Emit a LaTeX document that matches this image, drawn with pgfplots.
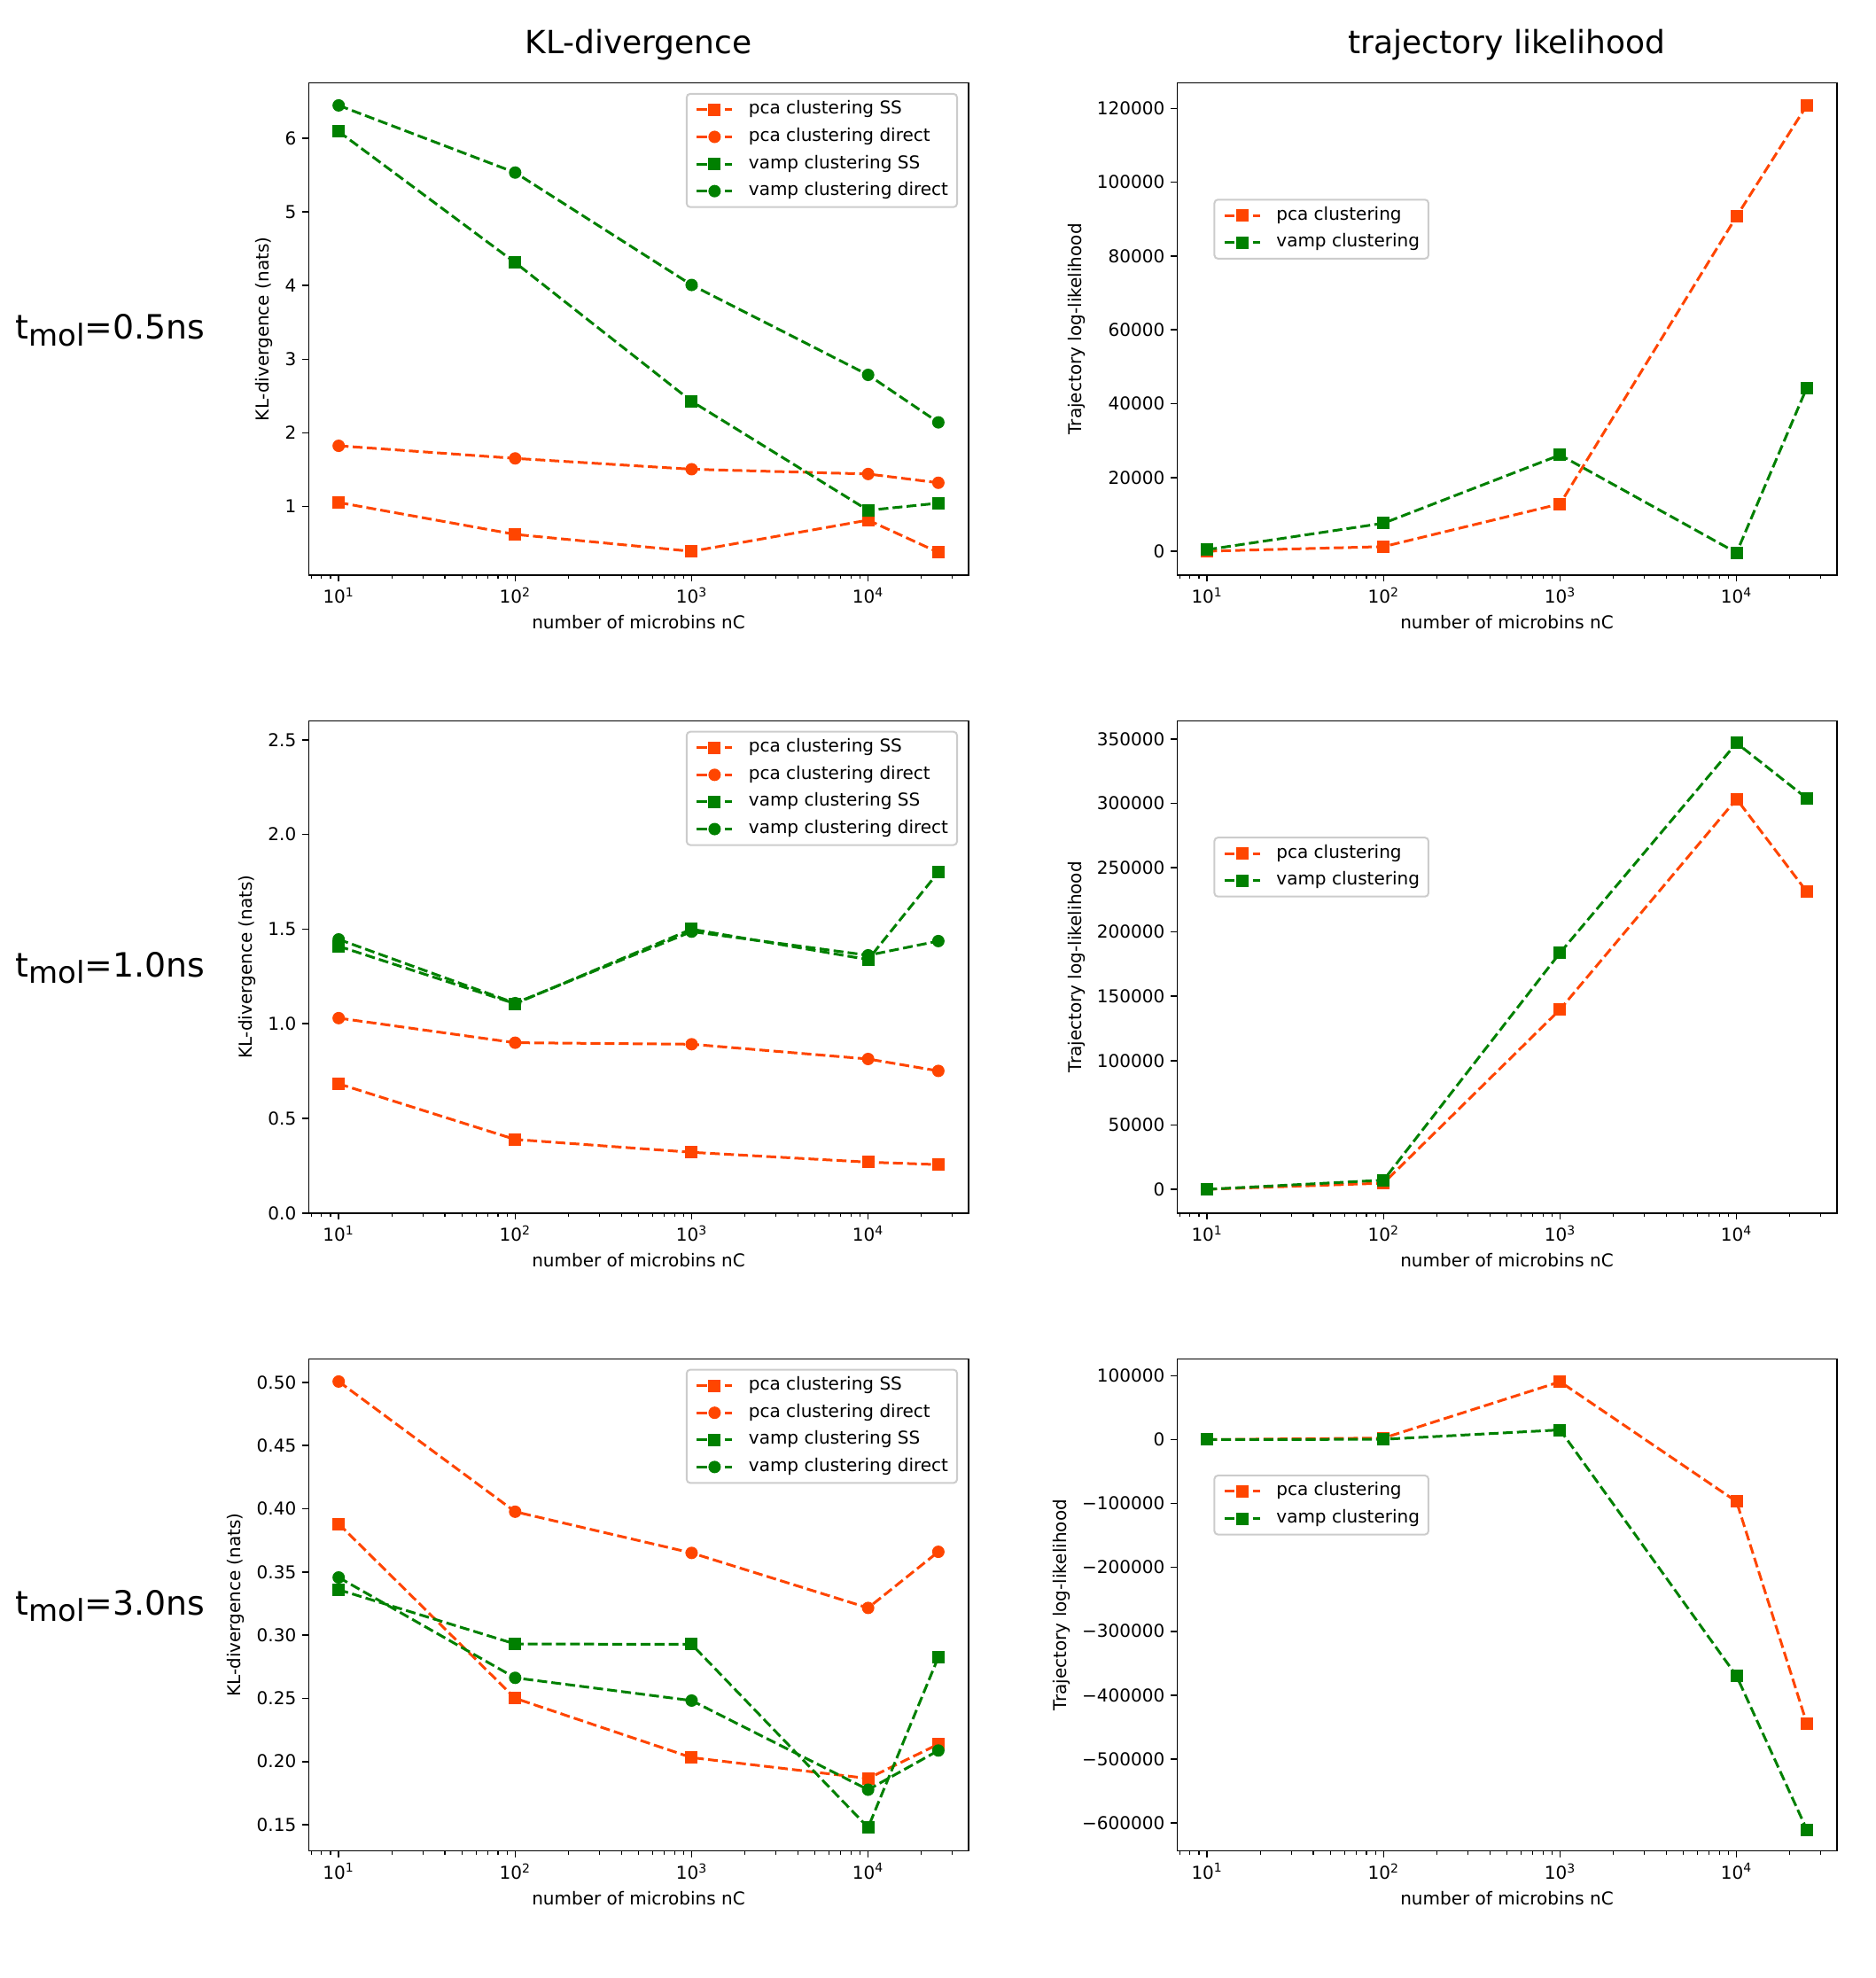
\documentclass[border=0pt]{standalone}
\usepackage{fontspec}
\setmainfont{DejaVu Sans}
\usepackage{pgfplots}
\pgfplotsset{compat=1.18}
\usepackage{pgfplotstable}

\definecolor{pcaC}{RGB}{255,69,0}
\definecolor{vampC}{RGB}{0,128,0}

% ---- KL-divergence (nats) per number of microbins ----
\pgfplotstableread{
n      pcaSS   pcaDir  vampSS  vampDir
10     1.055   1.825   6.092   6.447
100    0.622   1.654   4.313   5.535
1000   0.392   1.507   2.429   4.009
10000  0.816   1.442   0.949   2.788
25000  0.378   1.323   1.046   2.143
}\klA
\pgfplotstableread{
n      pcaSS   pcaDir  vampSS  vampDir
10     0.683   1.030   1.410   1.446
100    0.389   0.900   1.106   1.109
1000   0.321   0.892   1.500   1.487
10000  0.269   0.814   1.339   1.362
25000  0.256   0.751   1.801   1.437
}\klB
\pgfplotstableread{
n      pcaSS   pcaDir  vampSS  vampDir
10     0.388   0.5006  0.3359  0.3456
100    0.250   0.3976  0.2930  0.2662
1000   0.2031  0.3650  0.2927  0.2482
10000  0.1866  0.3215  0.1478  0.1777
25000  0.2137  0.3659  0.2825  0.2087
}\klC

% ---- trajectory log-likelihood ----
\pgfplotstableread{
n      pca      vamp
10     50       460
100    1287     7632
1000   12874    26115
10000  90759    -376
25000  120828   44322
}\llA
\pgfplotstableread{
n      pca      vamp
10     0        0
100    4800     7121
1000   139789   183836
10000  303316   346835
25000  231311   303843
}\llB
\pgfplotstableread{
n      pca      vamp
10     0        0
100    2500     500
1000   90644    15245
10000  -97028   -370006
25000  -444304  -610512
}\llC

\newcommand{\tfont}{\fontsize{10}{12}\selectfont}
\newcommand{\rowlab}[1]{{\fontsize{18.9}{22}\selectfont t}{\fontsize{17}{20}\selectfont\raisebox{-3.7pt}{mol}}{\fontsize{18.9}{22}\selectfont =#1ns}}

\pgfplotsset{
  every axis/.append style={
    scale only axis, width=372.2pt, height=277.65pt,
    xmode=log, xmin=6.76, xmax=36970,
    xtick={10,100,1000,10000},
    xticklabels={10\textsuperscript{1},10\textsuperscript{2},10\textsuperscript{3},10\textsuperscript{4}},
    minor xtick={7,8,9,20,30,40,50,60,70,80,90,200,300,400,500,600,700,800,900,2000,3000,4000,5000,6000,7000,8000,9000,20000,30000},
    scaled y ticks=false,
    tick pos=left, tick align=outside,
    major tick length=3.5pt, minor tick length=2pt,
    axis line style={line width=0.8pt},
    tick label style={font=\tfont},
    label style={font=\tfont},
    xlabel={number of microbins nC},
    title style={font=\fontsize{18}{21}\selectfont, at={(0.5,1)}, anchor=base, yshift=10.5pt},
    legend cell align=left,
    legend style={font=\tfont, draw=black!20, line width=1pt, rounded corners=2pt,
      fill=white, fill opacity=0.8, text opacity=1,
      inner xsep=5pt, inner ysep=4pt, row sep=5.3pt, column sep=8.5pt,
      nodes={inner sep=0pt, text height=7.5pt, text depth=2.5pt}},
  },
  every major tick/.append style={black, line width=0.8pt},
  every minor tick/.append style={black, line width=0.6pt},
  legend image code/.code={%
    \draw[mark repeat=2,mark phase=2,sharp corners,fill opacity=1,draw opacity=1,#1]
      plot coordinates {(0pt,0pt) (10pt,0pt) (20pt,0pt)};},
  /pgfplots/sPcaSS/.style={color=pcaC, line width=1.5pt, dash pattern=on 5.55pt off 2.4pt,
    mark=square*, mark size=3pt, mark options={solid, line width=1pt, fill=pcaC}},
  /pgfplots/sPcaDir/.style={color=pcaC, line width=1.5pt, dash pattern=on 5.55pt off 2.4pt,
    mark=*, mark size=3pt, mark options={solid, line width=1pt, fill=pcaC}},
  /pgfplots/sVampSS/.style={color=vampC, line width=1.5pt, dash pattern=on 5.55pt off 2.4pt,
    mark=square*, mark size=3pt, mark options={solid, line width=1pt, fill=vampC}},
  /pgfplots/sVampDir/.style={color=vampC, line width=1.5pt, dash pattern=on 5.55pt off 2.4pt,
    mark=*, mark size=3pt, mark options={solid, line width=1pt, fill=vampC}},
}

\begin{document}
\begin{tikzpicture}
\path[use as bounding box] (0pt,0pt) rectangle (1058pt,1116pt);

% row labels
\node[anchor=base west, inner sep=0pt] at (8.6pt,924.65pt) {\rowlab{0.5}};
\node[anchor=base west, inner sep=0pt] at (8.6pt,564.7pt) {\rowlab{1.0}};
\node[anchor=base west, inner sep=0pt] at (8.6pt,204.8pt) {\rowlab{3.0}};

% ===== row 1 =====
\begin{axis}[at={(174.15pt,791.5pt)}, anchor=south west,
  title={KL-divergence}, ylabel={KL-divergence (nats)},
  legend style={at={(1,1)}, anchor=north east, xshift=-5.85pt, yshift=-5.6pt},
  ymin=0.069, ymax=6.751, ytick={1,2,3,4,5,6}, yticklabels={1,2,3,4,5,6}]
\addplot[sPcaSS] table[x=n,y=pcaSS]{\klA}; \addlegendentry{pca clustering SS}
\addplot[sPcaDir] table[x=n,y=pcaDir]{\klA}; \addlegendentry{pca clustering direct}
\addplot[sVampSS] table[x=n,y=vampSS]{\klA}; \addlegendentry{vamp clustering SS}
\addplot[sVampDir] table[x=n,y=vampDir]{\klA}; \addlegendentry{vamp clustering direct}
\end{axis}

\begin{axis}[at={(664.15pt,791.5pt)}, anchor=south west,
  title={trajectory likelihood}, ylabel={Trajectory log-likelihood},
  legend style={at={(0.0552,0.7648)}, anchor=north west},
  ymin=-6437, ymax=126897, ytick={0,20000,40000,60000,80000,100000,120000},
  yticklabels={0,20000,40000,60000,80000,100000,120000}]
\addplot[sPcaSS] table[x=n,y=pca]{\llA}; \addlegendentry{pca clustering}
\addplot[sVampSS] table[x=n,y=vamp]{\llA}; \addlegendentry{vamp clustering}
\end{axis}

% ===== row 2 =====
\begin{axis}[at={(174.15pt,431.575pt)}, anchor=south west,
  ylabel={KL-divergence (nats)},
  legend style={at={(1,1)}, anchor=north east, xshift=-5.85pt, yshift=-5.6pt},
  ymin=0, ymax=2.6, ytick={0,0.5,1,1.5,2,2.5}, yticklabels={0.0,0.5,1.0,1.5,2.0,2.5}]
\addplot[sPcaSS] table[x=n,y=pcaSS]{\klB}; \addlegendentry{pca clustering SS}
\addplot[sPcaDir] table[x=n,y=pcaDir]{\klB}; \addlegendentry{pca clustering direct}
\addplot[sVampSS] table[x=n,y=vampSS]{\klB}; \addlegendentry{vamp clustering SS}
\addplot[sVampDir] table[x=n,y=vampDir]{\klB}; \addlegendentry{vamp clustering direct}
\end{axis}

\begin{axis}[at={(664.15pt,431.575pt)}, anchor=south west,
  ylabel={Trajectory log-likelihood},
  legend style={at={(0.0552,0.7648)}, anchor=north west},
  ymin=-18460, ymax=363980, ytick={0,50000,100000,150000,200000,250000,300000,350000},
  yticklabels={0,50000,100000,150000,200000,250000,300000,350000}]
\addplot[sPcaSS] table[x=n,y=pca]{\llB}; \addlegendentry{pca clustering}
\addplot[sVampSS] table[x=n,y=vamp]{\llB}; \addlegendentry{vamp clustering}
\end{axis}

% ===== row 3 =====
\begin{axis}[at={(174.15pt,71.65pt)}, anchor=south west,
  ylabel={KL-divergence (nats)},
  legend style={at={(1,1)}, anchor=north east, xshift=-5.85pt, yshift=-5.6pt},
  ymin=0.1292, ymax=0.5185, ytick={0.15,0.2,0.25,0.3,0.35,0.4,0.45,0.5},
  yticklabels={0.15,0.20,0.25,0.30,0.35,0.40,0.45,0.50}]
\addplot[sPcaSS] table[x=n,y=pcaSS]{\klC}; \addlegendentry{pca clustering SS}
\addplot[sPcaDir] table[x=n,y=pcaDir]{\klC}; \addlegendentry{pca clustering direct}
\addplot[sVampSS] table[x=n,y=vampSS]{\klC}; \addlegendentry{vamp clustering SS}
\addplot[sVampDir] table[x=n,y=vampDir]{\klC}; \addlegendentry{vamp clustering direct}
\end{axis}

\begin{axis}[at={(664.15pt,71.65pt)}, anchor=south west,
  ylabel={Trajectory log-likelihood},
  legend style={at={(0.0552,0.7648)}, anchor=north west},
  ymin=-644084, ymax=126417,
  ytick={-600000,-500000,-400000,-300000,-200000,-100000,0,100000},
  yticklabels={−600000,−500000,−400000,−300000,−200000,−100000,0,100000}]
\addplot[sPcaSS] table[x=n,y=pca]{\llC}; \addlegendentry{pca clustering}
\addplot[sVampSS] table[x=n,y=vamp]{\llC}; \addlegendentry{vamp clustering}
\end{axis}
\end{tikzpicture}
\end{document}
